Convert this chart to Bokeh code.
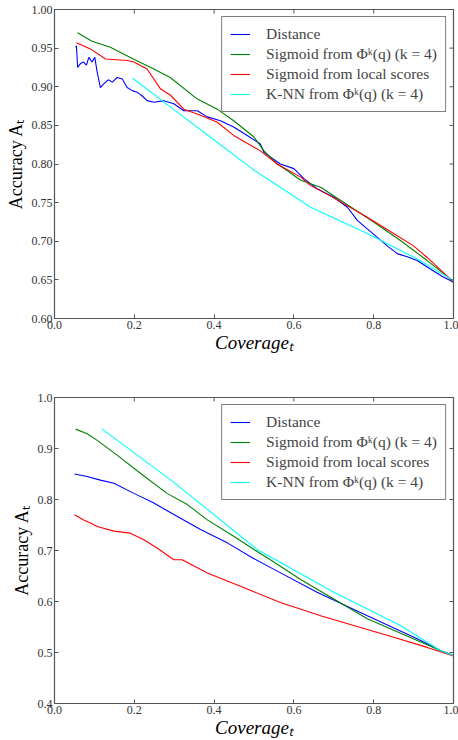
import math
from bokeh.plotting import figure
from bokeh.models import FixedTicker, Range1d, Legend, LegendItem, CustomJSTickFormatter
from bokeh.layouts import column
from bokeh.embed import file_html
from bokeh.resources import INLINE

# ---------- data: top panel ----------
top_dist_x = [0.053, 0.055, 0.058, 0.065, 0.073, 0.080, 0.086, 0.094, 0.101, 0.107, 0.115, 0.124, 0.135,
              0.145, 0.157, 0.170, 0.182, 0.195, 0.207, 0.220, 0.232, 0.250, 0.274, 0.299, 0.324, 0.358,
              0.383, 0.416, 0.449, 0.483, 0.516, 0.525, 0.566, 0.600, 0.625, 0.658, 0.700, 0.734, 0.759,
              0.784, 0.809, 0.834, 0.859, 0.884, 0.909, 0.942, 0.970, 1.000]
top_dist_y = [0.951, 0.953, 0.925, 0.930, 0.932, 0.928, 0.938, 0.932, 0.938, 0.919, 0.899, 0.904, 0.909,
              0.906, 0.912, 0.910, 0.899, 0.895, 0.893, 0.888, 0.882, 0.880, 0.882, 0.878, 0.869, 0.869,
              0.861, 0.856, 0.848, 0.837, 0.826, 0.815, 0.800, 0.794, 0.781, 0.768, 0.757, 0.744, 0.727,
              0.716, 0.705, 0.694, 0.684, 0.680, 0.675, 0.664, 0.655, 0.647]
top_sigk_x = [0.058, 0.094, 0.140, 0.190, 0.249, 0.290, 0.358, 0.408, 0.449, 0.500, 0.525, 0.558, 0.582,
              0.617, 0.667, 0.800, 0.867, 0.934, 1.000]
top_sigk_y = [0.970, 0.959, 0.951, 0.938, 0.923, 0.912, 0.884, 0.871, 0.856, 0.835, 0.817, 0.800, 0.792,
              0.779, 0.770, 0.725, 0.701, 0.675, 0.648]
top_sigl_x = [0.055, 0.090, 0.128, 0.182, 0.199, 0.232, 0.266, 0.291, 0.324, 0.366, 0.408, 0.449, 0.516,
              0.558, 0.617, 0.642, 0.683, 0.717, 0.784, 0.859, 0.900, 0.934, 1.000]
top_sigl_y = [0.957, 0.949, 0.936, 0.934, 0.932, 0.923, 0.897, 0.889, 0.871, 0.863, 0.854, 0.837, 0.817,
              0.800, 0.783, 0.772, 0.761, 0.751, 0.731, 0.707, 0.694, 0.679, 0.647]
top_knn_x = [0.196, 0.300, 0.400, 0.500, 0.533, 0.642, 0.784, 0.909, 1.000]
top_knn_y = [0.911, 0.870, 0.831, 0.792, 0.781, 0.744, 0.710, 0.677, 0.649]

# ---------- data: bottom panel ----------
bot_dist_x = [0.050, 0.082, 0.115, 0.149, 0.199, 0.249, 0.307, 0.366, 0.433, 0.500, 0.550, 0.658, 0.784,
              0.909, 0.967, 1.000]
bot_dist_y = [0.850, 0.845, 0.838, 0.832, 0.812, 0.793, 0.767, 0.741, 0.715, 0.684, 0.663, 0.618, 0.572,
              0.527, 0.504, 0.494]
bot_sigk_x = [0.053, 0.082, 0.107, 0.157, 0.216, 0.282, 0.333, 0.383, 0.449, 0.500, 0.541, 0.617, 0.784,
              0.967, 1.000]
bot_sigk_y = [0.938, 0.929, 0.916, 0.887, 0.851, 0.812, 0.790, 0.760, 0.728, 0.702, 0.682, 0.643, 0.566,
              0.504, 0.494]
bot_sigl_x = [0.050, 0.073, 0.090, 0.107, 0.149, 0.190, 0.224, 0.257, 0.299, 0.320, 0.383, 0.466, 0.566,
              0.667, 0.750, 0.850, 0.934, 1.000]
bot_sigl_y = [0.770, 0.760, 0.754, 0.747, 0.738, 0.734, 0.721, 0.705, 0.682, 0.682, 0.656, 0.630, 0.598,
              0.572, 0.553, 0.530, 0.510, 0.493]
bot_knn_x = [0.118, 0.300, 0.508, 0.700, 0.867, 0.967, 1.000]
bot_knn_y = [0.939, 0.833, 0.702, 0.618, 0.553, 0.504, 0.494]

x_ticks = [0.0, 0.2, 0.4, 0.6, 0.8, 1.0]
top_y_ticks = [0.60, 0.65, 0.70, 0.75, 0.80, 0.85, 0.90, 0.95, 1.00]
bot_y_ticks = [0.4, 0.5, 0.6, 0.7, 0.8, 0.9, 1.0]

labels = ["Distance", "Sigmoid from \u03a6\u1d4f(q) (k = 4)", "Sigmoid from local scores",
          "K-NN from \u03a6\u1d4f(q) (k = 4)"]
colors = ["#0000ff", "#008000", "#ff0000", "#00ffff"]

SERIF = "Liberation Serif"
FRAME = "#555555"


def make_panel(series, y_range, y_ticks, fmt_decimals, height, border_top, border_bottom):
    x0, x1 = 0.0, 1.0
    y0, y1 = y_range
    p = figure(width=458, height=height, output_backend="svg", toolbar_location=None,
               x_range=Range1d(x0, x1), y_range=Range1d(y0, y1),
               min_border_left=54, min_border_right=5, min_border_top=border_top,
               min_border_bottom=border_bottom)
    p.grid.visible = False
    p.outline_line_color = FRAME
    p.outline_line_width = 1.2
    p.background_fill_color = "white"
    p.border_fill_color = "white"

    renderers = []
    for (xs, ys), c in zip(series, colors):
        r = p.line(xs, ys, line_color=c, line_width=1.1)
        renderers.append(r)

    # mirrored inward ticks on the top and right edges of the frame
    p.scatter(x=x_ticks, y=[y1] * len(x_ticks), marker="dash", angle=math.pi / 2, size=8,
              line_color=FRAME, line_width=1)
    p.scatter(x=[x1] * len(y_ticks), y=y_ticks, marker="dash", size=8,
              line_color=FRAME, line_width=1)

    for ax in (p.xaxis[0], p.yaxis[0]):
        ax.major_tick_in = 4
        ax.major_tick_out = 0
        ax.minor_tick_line_color = None
        ax.axis_line_color = FRAME
        ax.major_tick_line_color = FRAME
        ax.major_label_text_font = SERIF
        ax.major_label_text_font_size = "12px"
        ax.major_label_text_color = "#333333"
        ax.major_label_standoff = 2
        ax.axis_label_standoff = 0

    p.yaxis[0].axis_label_standoff = 3
    p.xaxis[0].ticker = FixedTicker(ticks=x_ticks)
    p.yaxis[0].ticker = FixedTicker(ticks=y_ticks)
    p.yaxis[0].formatter = CustomJSTickFormatter(code="return tick.toFixed(%d);" % fmt_decimals)
    p.xaxis[0].formatter = CustomJSTickFormatter(code="return tick.toFixed(1);")

    p.xaxis[0].axis_label = "Coverage\u209c"
    p.xaxis[0].axis_label_text_font = SERIF
    p.xaxis[0].axis_label_text_font_style = "italic"
    p.xaxis[0].axis_label_text_font_size = "19px"
    p.xaxis[0].axis_label_text_color = "black"

    p.yaxis[0].axis_label = "Accuracy A\u209c"
    p.yaxis[0].axis_label_text_font = SERIF
    p.yaxis[0].axis_label_text_font_style = "normal"
    p.yaxis[0].axis_label_text_font_size = "18px"
    p.yaxis[0].axis_label_text_color = "black"

    legend = Legend(items=[LegendItem(label=l, renderers=[r]) for l, r in zip(labels, renderers)],
                    location="top_right", margin=7, padding=8, spacing=2,
                    glyph_width=20, glyph_height=18, label_height=18, label_standoff=16,
                    label_text_font=SERIF, label_text_font_size="15.5px",
                    border_line_color="black", border_line_width=1,
                    background_fill_alpha=1.0)
    p.add_layout(legend, "center")
    return p


p1 = make_panel([(top_dist_x, top_dist_y), (top_sigk_x, top_sigk_y), (top_sigl_x, top_sigl_y),
                 (top_knn_x, top_knn_y)], (0.60, 1.00), top_y_ticks, 2, 358, 9, 40)
p2 = make_panel([(bot_dist_x, bot_dist_y), (bot_sigk_x, bot_sigk_y), (bot_sigl_x, bot_sigl_y),
                 (bot_knn_x, bot_knn_y)], (0.4, 1.0), bot_y_ticks, 1, 382, 39, 35)

layout = column(p1, p2, spacing=0)
open("out.html", "w").write(file_html(layout, INLINE))
